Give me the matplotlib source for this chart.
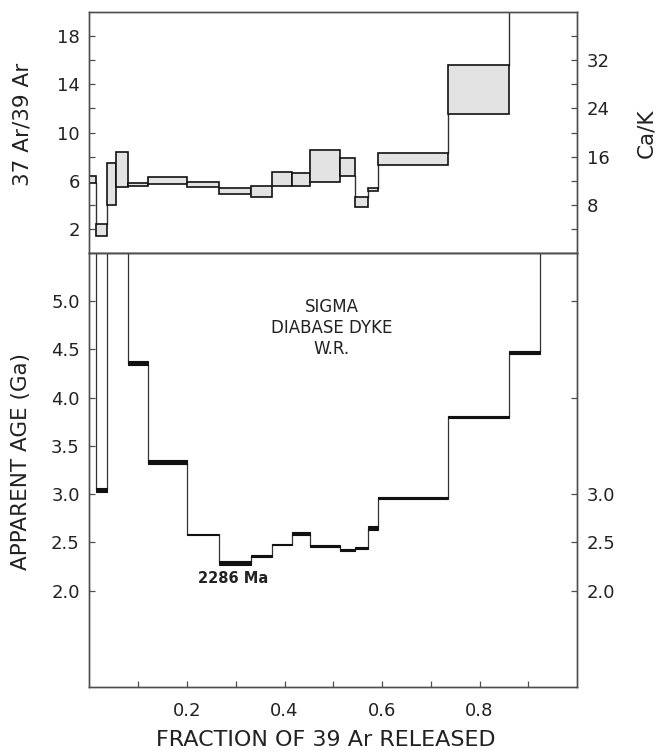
import matplotlib
matplotlib.use("Agg")
import matplotlib.pyplot as plt
from matplotlib.patches import Rectangle

# Heating-step boundaries, cumulative fraction of 39Ar released
step_edges = [0.0, 0.013, 0.035, 0.054, 0.080, 0.119, 0.200, 0.266, 0.332, 0.374,
              0.415, 0.452, 0.514, 0.545, 0.572, 0.592, 0.736, 0.861, 0.925, 1.0]

# 37Ar/39Ar per step (lower / upper bound of each box); last two steps are off scale
ratio_lo = [5.80, 1.42, 4.00, 5.44, 5.58, 5.72, 5.50, 4.89, 4.61, 5.56,
            5.58, 5.92, 6.39, 3.78, 5.17, 7.28, 11.55, 24.0, 24.0]
ratio_hi = [6.40, 2.44, 7.47, 8.42, 5.80, 6.28, 5.90, 5.39, 5.53, 6.75,
            6.64, 8.56, 7.86, 4.61, 5.39, 8.28, 15.60, 26.0, 26.0]

# Apparent age per step (Ga) and half-width of each age box
age_ga = [6.2, 3.04, 6.4, 6.3, 4.36, 3.33, 2.58, 2.286, 2.36, 2.48,
          2.59, 2.46, 2.42, 2.44, 2.645, 2.96, 3.80, 4.47, 6.0]
age_err = [0.05, 0.02, 0.05, 0.05, 0.025, 0.02, 0.008, 0.02, 0.008, 0.008,
           0.015, 0.008, 0.008, 0.01, 0.02, 0.012, 0.012, 0.015, 0.05]

min_age_ga = 2.286
caption = ["SIGMA", "DIABASE DYKE", "W.R."]

ratio_ticks = [2, 4, 6, 8, 10, 12, 14, 16, 18]
ratio_labels = ["2", "", "6", "", "10", "", "14", "", "18"]
cak_ticks = [4, 8, 12, 16, 20, 24, 28, 32, 36]
cak_labels = ["", "8", "", "16", "", "24", "", "32", ""]
age_ticks = [2.0, 2.5, 3.0, 3.5, 4.0, 4.5, 5.0]
age_right_ticks = [2.0, 2.5, 3.0, 4.0, 5.0]
age_right_labels = ["2.0", "2.5", "3.0", "", ""]
frac_ticks = [0.1, 0.2, 0.3, 0.4, 0.5, 0.6, 0.7, 0.8, 0.9]
frac_labels = ["", "0.2", "", "0.4", "", "0.6", "", "0.8", ""]

plt.rcParams["font.family"] = ["DejaVu Sans"]
AX_COL = "#4f4f4f"
TXT_COL = "#222222"
TICK_FS = 13
LABEL_FS = 15.5

fig = plt.figure(figsize=(6.59, 7.51), dpi=100)
ax_top = fig.add_axes([0.1358, 0.6631, 0.7398, 0.3209])
ax_bot = fig.add_axes([0.1358, 0.0852, 0.7398, 0.5779])


def draw_steps(ax, lo, hi, face, lw, conn_lw):
    n = len(lo)
    for i in range(n):
        x0, x1 = step_edges[i], step_edges[i + 1]
        ax.add_patch(Rectangle((x0, lo[i]), x1 - x0, hi[i] - lo[i],
                               facecolor=face, edgecolor="#111111", lw=lw,
                               zorder=3))
    for i in range(n - 1):
        x = step_edges[i + 1]
        if hi[i] < lo[i + 1]:
            ax.plot([x, x], [hi[i], lo[i + 1]], color="#333333", lw=conn_lw, zorder=2)
        elif lo[i] > hi[i + 1]:
            ax.plot([x, x], [hi[i + 1], lo[i]], color="#333333", lw=conn_lw, zorder=2)


def style_axis(ax):
    for sp in ax.spines.values():
        sp.set_color(AX_COL)
        sp.set_linewidth(1.0)
    ax.tick_params(direction="in", length=4, width=0.9, color=AX_COL,
                   labelcolor=TXT_COL, labelsize=TICK_FS)


# ---- upper panel: 37Ar/39Ar and Ca/K
draw_steps(ax_top, ratio_lo, ratio_hi, "#e3e3e3", 1.2, 1.0)
ax_top.set_xlim(0, 1.0)
ax_top.set_ylim(0, 20)
ax_top.set_xticks([])
ax_top.set_yticks(ratio_ticks)
ax_top.set_yticklabels(ratio_labels)
style_axis(ax_top)
ax_top.tick_params(axis="y", pad=7)

ax_cak = ax_top.twinx()
ax_cak.set_ylim(0, 40)
ax_cak.set_yticks(cak_ticks)
ax_cak.set_yticklabels(cak_labels)
style_axis(ax_cak)
ax_cak.tick_params(axis="y", pad=7)

# ---- lower panel: apparent age spectrum
age_lo = [a - e for a, e in zip(age_ga, age_err)]
age_hi = [a + e for a, e in zip(age_ga, age_err)]
draw_steps(ax_bot, age_lo, age_hi, "#111111", 0.8, 0.9)
ax_bot.set_xlim(0, 1.0)
ax_bot.set_ylim(1.0, 5.5)
ax_bot.set_xticks(frac_ticks)
ax_bot.set_xticklabels(frac_labels)
ax_bot.set_yticks(age_ticks)
ax_bot.set_yticklabels([f"{t:.1f}" for t in age_ticks])
style_axis(ax_bot)
ax_bot.tick_params(axis="x", pad=11)
ax_bot.tick_params(axis="y", pad=7)

ax_age_r = ax_bot.twinx()
ax_age_r.set_ylim(1.0, 5.5)
ax_age_r.set_yticks(age_right_ticks)
ax_age_r.set_yticklabels(age_right_labels)
style_axis(ax_age_r)
ax_age_r.tick_params(axis="y", pad=7)

ax_bot.text(0.497, 4.72, "\n".join(caption), ha="center", va="center",
            fontsize=12, color=TXT_COL, linespacing=1.2)
ax_bot.text(0.294, 2.12, f"{min_age_ga * 1000:.0f} Ma", ha="center", va="center",
            fontsize=10.5, fontweight="bold", color=TXT_COL)

fig.text(0.034, 0.835, "37 Ar/39 Ar", rotation=90, ha="center", va="center",
         fontsize=LABEL_FS, color=TXT_COL)
fig.text(0.981, 0.823, "Ca/K", rotation=90, ha="center", va="center",
         fontsize=LABEL_FS, color=TXT_COL)
fig.text(0.032, 0.386, "APPARENT AGE (Ga)", rotation=90, ha="center", va="center",
         fontsize=LABEL_FS, color=TXT_COL)
fig.text(0.495, 0.0146, "FRACTION OF 39 Ar RELEASED", ha="center", va="center",
         fontsize=16, color=TXT_COL)

fig.savefig("out.png", dpi=100, facecolor="white")
